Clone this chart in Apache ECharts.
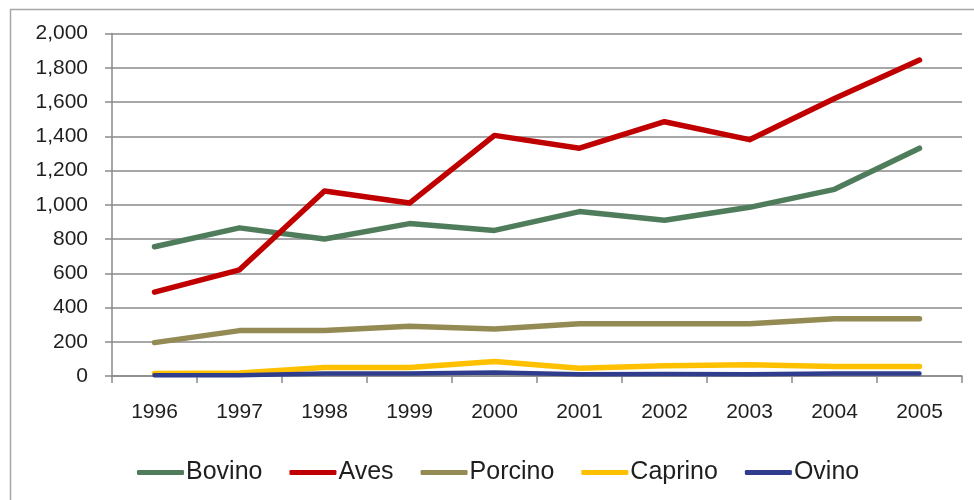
<!DOCTYPE html>
<html>
<head>
<meta charset="utf-8">
<title>Producción pecuaria 1996-2005</title>
<script src="https://cdn.jsdelivr.net/npm/echarts@6/dist/echarts.min.js"></script>
<style>
  html, body { margin: 0; padding: 0; background: #ffffff; }
  #chart { width: 974px; height: 500px; }
</style>
</head>
<body>
<div id="chart"></div>
<script>
// Years on the category axis
const years = ['1996', '1997', '1998', '1999', '2000', '2001', '2002', '2003', '2004', '2005'];

// Values per species
const bovino  = [755, 865, 800, 890, 850, 960, 910, 985, 1090, 1330];
const aves    = [490, 620, 1080, 1010, 1405, 1330, 1485, 1380, 1620, 1845];
const porcino = [195, 265, 265, 290, 275, 305, 305, 305, 335, 335];
const caprino = [15, 18, 50, 50, 85, 45, 60, 65, 55, 55];
const ovino   = [5, 5, 15, 15, 20, 10, 12, 10, 15, 15];

const seriesNames = ['Bovino', 'Aves', 'Porcino', 'Caprino', 'Ovino'];
const seriesData = [bovino, aves, porcino, caprino, ovino];
const seriesColors = ['#4f7d5c', '#c00000', '#948a54', '#ffc000', '#2f3d8c'];
const seriesWidths = [5.5, 5.5, 5.5, 5.5, 4.5];

const textColor = '#1f1f1f';
const fontFamily = 'Liberation Sans, Arial, sans-serif';

const chart = echarts.init(document.getElementById('chart'), null, { renderer: 'canvas' });

chart.setOption({
  backgroundColor: '#ffffff',
  animation: false,
  graphic: [{
    type: 'rect',
    silent: true,
    shape: { x: 10.5, y: 9.5, width: 1000, height: 1000 },
    style: { fill: 'none', stroke: '#a6a6a6', lineWidth: 1.5 }
  }],
  grid: { left: 112, right: 12, top: 33.5, bottom: 124, containLabel: false },
  legend: {
    data: seriesNames,
    top: 455,
    left: 132,
    icon: 'roundRect',
    itemWidth: 47,
    itemHeight: 5,
    itemGap: 27,
    textStyle: { fontSize: 25, color: textColor, fontFamily: fontFamily, padding: [0, 0, 0, -3] }
  },
  xAxis: {
    type: 'category',
    data: years,
    boundaryGap: true,
    axisLine: { lineStyle: { color: '#8a8a8a', width: 1.5 } },
    axisTick: { show: true, length: 7, alignWithLabel: false, lineStyle: { color: '#8a8a8a', width: 1.5 } },
    axisLabel: { margin: 26, fontSize: 21, color: textColor, fontFamily: fontFamily },
    splitLine: { show: false }
  },
  yAxis: {
    type: 'value',
    min: 0,
    max: 2000,
    interval: 200,
    axisLine: { show: true, lineStyle: { color: '#8a8a8a', width: 1.5 } },
    axisTick: { show: true, length: 7, lineStyle: { color: '#8a8a8a', width: 1.5 } },
    axisLabel: {
      margin: 24,
      fontSize: 21,
      color: textColor,
      fontFamily: fontFamily,
      formatter: function (v) { return v.toLocaleString('en-US'); }
    },
    splitLine: { show: true, lineStyle: { color: '#8a8a8a', width: 1.5 } }
  },
  series: seriesNames.map(function (name, i) {
    return {
      name: name,
      type: 'line',
      data: seriesData[i],
      showSymbol: false,
      symbol: 'none',
      smooth: false,
      color: seriesColors[i],
      lineStyle: { color: seriesColors[i], width: seriesWidths[i], cap: 'round', join: 'round' },
      itemStyle: { color: seriesColors[i] },
      z: 2 + i
    };
  })
});
</script>
</body>
</html>
